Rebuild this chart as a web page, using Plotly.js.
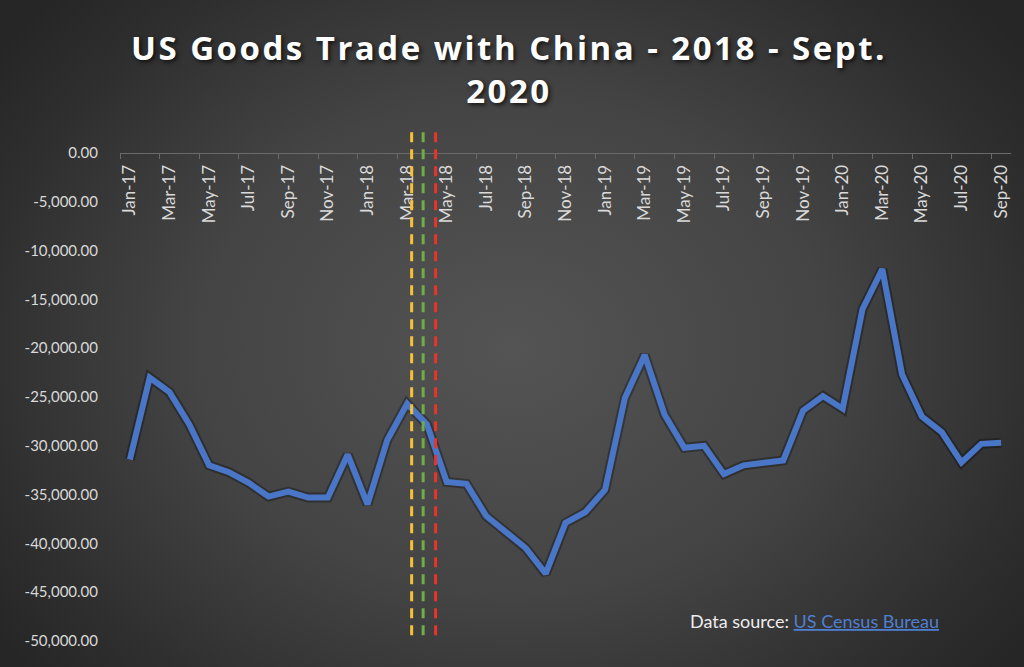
<!DOCTYPE html>
<html><head><meta charset="utf-8">
<script src="https://cdn.plot.ly/plotly-3.0.1.min.js"></script>
<style>
html,body{margin:0;padding:0;width:1024px;height:667px;overflow:hidden;}
body{background: radial-gradient(ellipse 62% 75% at 50% 52%, #545454 0%, #444444 50%, #2e2e2e 85%, #262626 100%);}
#chart{width:1024px;height:667px;}
.gtitle{letter-spacing:2.5px;}
</style></head><body><div id="chart"></div>
<script>
const months = ["Jan-17","Feb-17","Mar-17","Apr-17","May-17","Jun-17","Jul-17","Aug-17","Sep-17","Oct-17","Nov-17","Dec-17",
  "Jan-18","Feb-18","Mar-18","Apr-18","May-18","Jun-18","Jul-18","Aug-18","Sep-18","Oct-18","Nov-18","Dec-18",
  "Jan-19","Feb-19","Mar-19","Apr-19","May-19","Jun-19","Jul-19","Aug-19","Sep-19","Oct-19","Nov-19","Dec-19",
  "Jan-20","Feb-20","Mar-20","Apr-20","May-20","Jun-20","Jul-20","Aug-20","Sep-20"];
const tradeBalance = [-31400,-23000,-24500,-27800,-32000,-32700,-33800,-35200,-34700,-35300,-35300,-30900,
  -36000,-29400,-25700,-27800,-33700,-33900,-37200,-38900,-40500,-43100,-37900,-36800,
  -34500,-25100,-20700,-26800,-30200,-30000,-32900,-32000,-31700,-31500,-26400,-24900,
  -26200,-16000,-11900,-22700,-27000,-28600,-31700,-29800,-29700];
const yTickVals = [0,-5000,-10000,-15000,-20000,-25000,-30000,-35000,-40000,-45000,-50000];
const yTickText = ["0.00","-5,000.00","-10,000.00","-15,000.00","-20,000.00","-25,000.00","-30,000.00","-35,000.00","-40,000.00","-45,000.00","-50,000.00"];
// event markers, as fractional month-category positions
const eventPositions = [14.23, 14.81, 15.44];
const eventColors = ["#F5C236","#70AD47","#E8342A"];

const shapes = eventPositions.map((p, i) => ({
  type: "line", xref: "x", yref: "paper", x0: p, x1: p, y0: 0.012, y1: 1.053,
  line: {color: eventColors[i], width: 3, dash: "10px,7px"}
}));

const traces = [
  {x: months, y: tradeBalance, type: "scatter", mode: "lines", hoverinfo: "skip",
   line: {color: "rgba(0,0,0,0.3)", width: 10}},
  {x: months, y: tradeBalance, type: "scatter", mode: "lines",
   line: {color: "#4A76C8", width: 6}}
];

const layout = {
  width: 1024, height: 667,
  paper_bgcolor: "rgba(0,0,0,0)", plot_bgcolor: "rgba(0,0,0,0)",
  margin: {l: 120, r: 13, t: 153, b: 26},
  showlegend: false,
  font: {family: "Lato, 'Open Sans', sans-serif", color: "#D9D9D9"},
  title: {
    text: "US Goods Trade with China - 2018 - Sept.<br>2020",
    x: 0.497, xanchor: "center", y: 0.91, yanchor: "top", yref: "container",
    font: {family: "'Open Sans', sans-serif", size: 33, color: "#FFFFFF", weight: "bold",
           shadow: "2px 2px 4px rgba(0,0,0,0.7)"}
  },
  xaxis: {
    type: "category", side: "bottom", anchor: "free", position: 1,
    range: [-0.5, 44.5], dtick: 2, tickson: "boundaries",
    tickangle: -90, ticks: "outside", ticklen: 5, tickcolor: "#6A6A6A",
    ticklabelstandoff: 4,
    showline: true, linecolor: "#6A6A6A", linewidth: 1, showgrid: false, zeroline: false,
    tickfont: {size: 17, color: "#D9D9D9"}, fixedrange: true
  },
  yaxis: {
    range: [-50000, 0], tickvals: yTickVals, ticktext: yTickText,
    showgrid: false, zeroline: false, showline: false, ticks: "",
    ticklabelstandoff: 21, tickfont: {size: 15, color: "#D9D9D9"}, fixedrange: true
  },
  shapes: shapes,
  annotations: [{
    xref: "paper", yref: "paper", x: 0.78, y: 0.041, xanchor: "center", yanchor: "middle", showarrow: false,
    text: "Data source: <span style='color:#4F7FD0;text-decoration:underline'>US Census Bureau</span>",
    font: {size: 18, color: "#EDEDED"}
  }]
};

Plotly.newPlot("chart", traces, layout, {displayModeBar: false, staticPlot: true});
</script></body></html>
